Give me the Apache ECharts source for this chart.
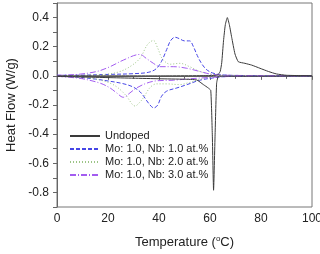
<!DOCTYPE html>
<html>
<head>
<meta charset="utf-8">
<script src="https://cdn.jsdelivr.net/npm/echarts@6/dist/echarts.min.js"></script>
<style>
  html, body { margin: 0; padding: 0; background: #fff; }
  #chart { width: 320px; height: 254px; }
</style>
</head>
<body>
<div id="chart"></div>
<script>
// [temperature degC, heat flow W/g]
const undopedHeat = [[0,0],[20,0],[40,0],[60,0.002],[63,0.006],[64,0.03],[64.6,0.09],[65.3,0.24],[66,0.35],[66.8,0.40],[67.6,0.35],[68.5,0.265],[69.8,0.15],[71.1,0.097],[73.7,0.086],[76.3,0.074],[79.6,0.052],[82.9,0.03],[86.1,0.013],[90,0.004],[100,0]];
const undopedCool = [[0,-0.004],[10,-0.008],[20,-0.012],[30,-0.016],[40,-0.02],[50,-0.023],[54.8,-0.028],[57.4,-0.06],[59.3,-0.083],[60.3,-0.1],[60.9,-0.4],[61.4,-0.785],[62,-0.4],[62.6,-0.05],[63.4,0.0],[66,-0.002],[80,-0.002],[100,0]];
const nb1Heat = [[0,0.004],[10,0.005],[20,0.01],[30,0.015],[36,0.025],[39,0.05],[41,0.1],[43,0.18],[44.5,0.24],[46.3,0.265],[48,0.255],[50,0.24],[52,0.24],[53.5,0.2],[55,0.14],[56.5,0.09],[58.5,0.045],[61,0.02],[64,0.008],[70,0.003],[100,0]];
const nb1Cool = [[0,0],[5,-0.005],[10,-0.012],[15,-0.022],[20,-0.035],[25,-0.05],[29,-0.07],[32,-0.1],[34,-0.14],[36,-0.19],[38,-0.22],[39.5,-0.2],[41,-0.14],[43,-0.105],[47,-0.083],[51,-0.06],[56,-0.03],[61,-0.015],[66,-0.005],[100,0]];
const nb2Heat = [[0,0.002],[10,0.004],[20,0.012],[24.7,0.03],[28.6,0.063],[32.5,0.12],[35.5,0.215],[37.8,0.243],[39.5,0.19],[41,0.125],[42.4,0.097],[44.3,0.08],[48.2,0.086],[52,0.063],[56,0.03],[61,0.01],[70,0.003],[100,0]];
const nb2Cool = [[0,-0.002],[10,-0.01],[16,-0.025],[20.8,-0.05],[24,-0.083],[27.3,-0.14],[29.5,-0.195],[30.6,-0.207],[32,-0.19],[33.9,-0.15],[36.5,-0.08],[39,-0.055],[43,-0.055],[48,-0.06],[52,-0.045],[56,-0.025],[60,-0.01],[70,-0.003],[100,0]];
const nb3Heat = [[0,0.004],[8,0.01],[15.6,0.03],[20.8,0.063],[26,0.108],[32.5,0.147],[35,0.12],[37.8,0.086],[40.4,0.063],[45.6,0.063],[50.9,0.052],[56,0.03],[61,0.01],[70,0.003],[100,0]];
const nb3Cool = [[0,-0.003],[5,-0.01],[10,-0.02],[16.9,-0.05],[20.8,-0.083],[23.4,-0.117],[26,-0.147],[28.6,-0.117],[31.2,-0.083],[35.2,-0.05],[39,-0.034],[45.6,-0.03],[52,-0.02],[61,-0.01],[70,-0.003],[100,0]];

const names = ['Undoped', 'Mo: 1.0, Nb: 1.0 at.%', 'Mo: 1.0, Nb: 2.0 at.%', 'Mo: 1.0, Nb: 3.0 at.%'];
const colors = ['#3a3a3a', '#4646e6', '#9cc486', '#a35cf0'];
const dashes = ['solid', [4, 2], [1, 2], [6, 2, 1, 2]];
const curves = [[undopedHeat, undopedCool], [nb1Heat, nb1Cool], [nb2Heat, nb2Cool], [nb3Heat, nb3Cool]];

const series = [];
curves.forEach(function (pair, i) {
  pair.forEach(function (data) {
    series.push({
      name: names[i],
      type: 'line',
      data: data,
      symbol: 'none',
      smooth: i === 0 ? 0.15 : 0.35,
      color: colors[i],
      lineStyle: { color: colors[i], width: 1, type: dashes[i] },
      z: i === 0 ? 5 : 2,
      animation: false
    });
  });
});

const chart = echarts.init(document.getElementById('chart'));
chart.setOption({
  animation: false,
  grid: { left: 57, right: 8, top: 3, bottom: 47, outerBoundsMode: 'none', show: true, borderColor: '#777', borderWidth: 1 },
  legend: {
    data: names,
    orient: 'vertical',
    left: 64,
    top: 125,
    itemWidth: 30,
    itemHeight: 8,
    itemGap: 1,
    itemStyle: { opacity: 0 },
    textStyle: { fontFamily: 'Liberation Sans', fontSize: 11, color: '#222', lineHeight: 12 }
  },
  xAxis: {
    type: 'value',
    min: 0,
    max: 100,
    interval: 20,
    name: 'Temperature ({sup|o}C)',
    nameLocation: 'middle',
    nameGap: 28,
    nameTextStyle: {
      fontFamily: 'Liberation Sans', fontSize: 13, color: '#222',
      rich: { sup: { fontSize: 8, verticalAlign: 'top', padding: [0, 0, 7, 0], fontFamily: 'Liberation Sans', color: '#222' } }
    },
    axisLine: { lineStyle: { color: '#666' } },
    axisTick: { length: 4, lineStyle: { color: '#666' } },
    minorTick: { show: true, splitNumber: 2, length: 3, lineStyle: { color: '#666' } },
    axisLabel: { fontFamily: 'Liberation Sans', fontSize: 12, color: '#222', margin: 6 },
    splitLine: { show: false }
  },
  yAxis: {
    type: 'value',
    min: -0.9,
    max: 0.5,
    interval: 0.1,
    name: 'Heat Flow (W/g)',
    nameLocation: 'middle',
    nameGap: 37,
    nameTextStyle: { fontFamily: 'Liberation Sans', fontSize: 13, color: '#222' },
    axisLine: { show: true, lineStyle: { color: '#666' } },
    axisTick: { length: 4, lineStyle: { color: '#666' } },
    axisLabel: {
      fontFamily: 'Liberation Sans', fontSize: 12, color: '#222', margin: 8,
      formatter: function (v) {
        if (Math.round(v * 10) % 2 !== 0) return '';
        return (Math.abs(v) < 1e-9 ? 0 : v).toFixed(1);
      }
    },
    splitLine: { show: false }
  },
  series: series
});
</script>
</body>
</html>
